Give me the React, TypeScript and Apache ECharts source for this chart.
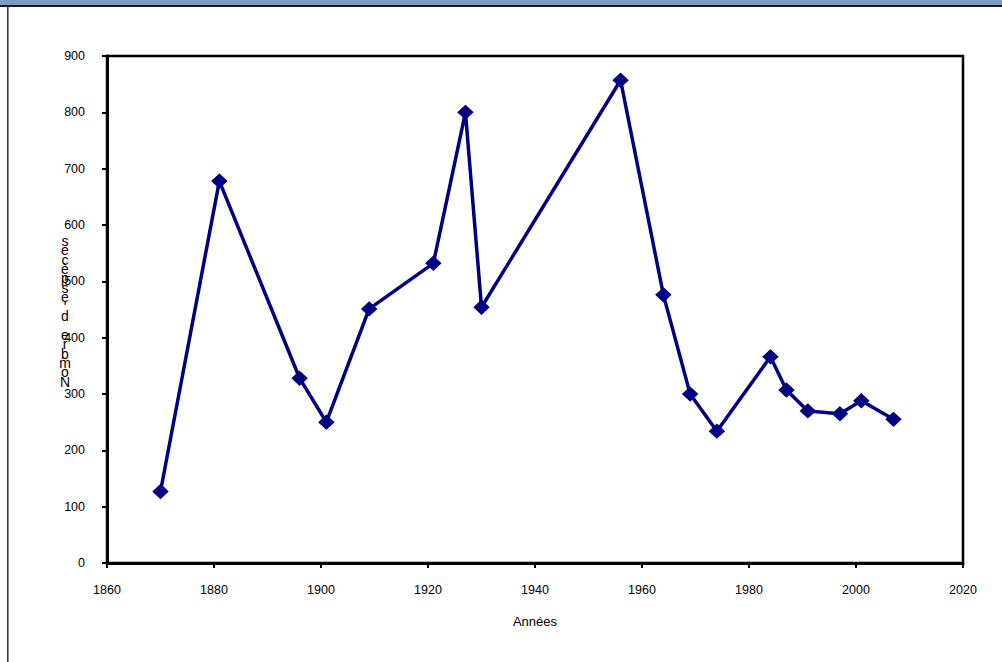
import React, { useEffect, useRef } from "react";
import * as echarts from "echarts";

const years = [1870, 1881, 1896, 1901, 1909, 1921, 1927, 1930, 1956, 1964, 1969, 1974, 1984, 1987, 1991, 1997, 2001, 2007];
const counts = [127, 678, 328, 250, 451, 532, 800, 454, 857, 476, 300, 234, 366, 307, 270, 265, 288, 255];
const yAxisTitle = "Nombre d'espèces";
const xAxisTitle = "Années";

export default function App() {
  const ref = useRef<HTMLDivElement>(null);
  useEffect(() => {
    if (!ref.current) return;
    const chart = echarts.init(ref.current, null, { renderer: "svg" });
    const stacked = yAxisTitle.split("").reverse().join("\n");
    chart.setOption({
      animation: false,
      backgroundColor: "#ffffff",
      grid: {
        left: 107,
        right: 39,
        top: 56,
        bottom: 99,
        show: true,
        borderColor: "#000000",
        borderWidth: 2.5,
        backgroundColor: "transparent",
      },
      xAxis: {
        type: "value",
        min: 1860,
        max: 2020,
        interval: 20,
        name: xAxisTitle,
        nameLocation: "middle",
        nameGap: 52,
        nameTextStyle: { fontFamily: "Liberation Sans, Arial", fontSize: 13, color: "#000" },
        axisLine: { show: true, lineStyle: { color: "#000", width: 3 } },
        axisTick: { show: true, length: 5, lineStyle: { color: "#000", width: 2 } },
        axisLabel: {
          margin: 20,
          fontFamily: "Liberation Sans, Arial",
          fontSize: 12.5,
          color: "#000",
          formatter: (v: number) => String(v),
        },
        splitLine: { show: false },
      },
      yAxis: {
        type: "value",
        min: 0,
        max: 900,
        interval: 100,
        axisLine: { show: true, lineStyle: { color: "#000", width: 3 } },
        axisTick: { show: true, length: 5, lineStyle: { color: "#000", width: 2 } },
        axisLabel: { margin: 22, fontFamily: "Liberation Sans, Arial", fontSize: 12.5, color: "#000" },
        splitLine: { show: false },
      },
      graphic: [
        { type: "rect", shape: { x: 0, y: 0, width: 1002, height: 5 }, style: { fill: "#7f9aba" } },
        { type: "rect", shape: { x: 0, y: 5, width: 1002, height: 2 }, style: { fill: "#1a1a1a" } },
        { type: "rect", shape: { x: 7, y: 6, width: 1.6, height: 656 }, style: { fill: "#3a3a3a" } },
        {
          type: "text",
          x: 65,
          y: 236,
          style: {
            text: stacked,
            font: "14px 'Liberation Sans', Arial",
            fontSize: 14,
            lineHeight: 9.4,
            fill: "#000",
            align: "center",
            verticalAlign: "top",
          },
        },
      ],
      series: [
        {
          type: "line",
          data: years.map((y, i) => [y, counts[i]]),
          lineStyle: { color: "#000080", width: 3.5 },
          itemStyle: { color: "#000080", borderColor: "#000080" },
          symbol: "diamond",
          symbolSize: [15, 14],
          showSymbol: true,
        },
      ],
    });
    return () => chart.dispose();
  }, []);
  return <div ref={ref} style={{ position: "fixed", left: 0, top: 0, width: 1002, height: 662 }} />;
}
